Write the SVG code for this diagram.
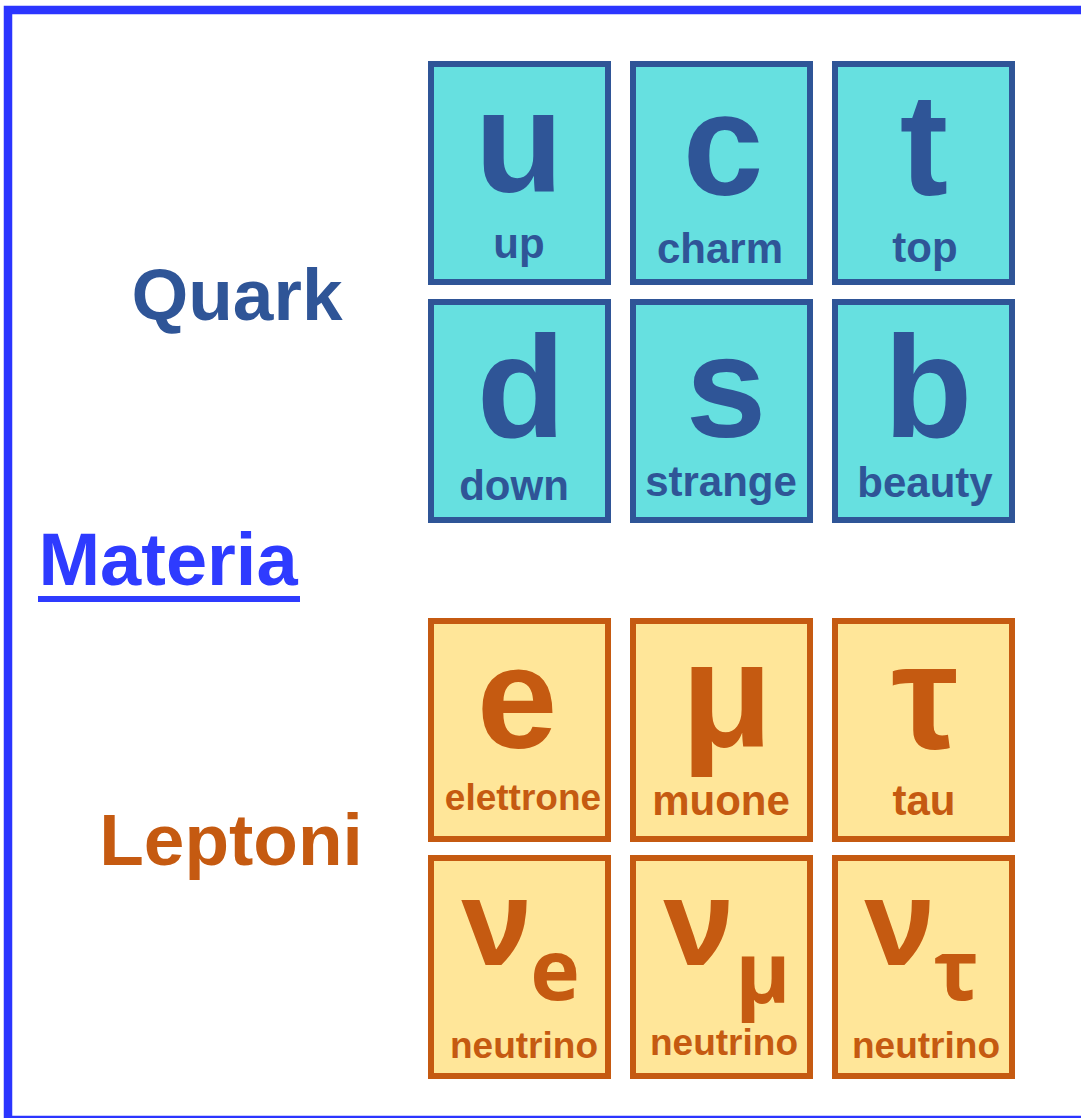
<svg xmlns="http://www.w3.org/2000/svg" width="1081" height="1118" viewBox="0 0 1081 1118">
<style>
.q rect{fill:#66e0e0;stroke:#2f5597;stroke-width:6}
.l rect{fill:#ffe699;stroke:#c55a11;stroke-width:6}
text{font-family:"Liberation Sans",Arial,sans-serif;font-weight:bold;text-anchor:middle}
.q text{fill:#2f5597}
.l text{fill:#c55a11}
.big{font-size:145px}
.lab{font-size:42px}
.sm{font-size:37px}
.nu{font-family:"Open Sans","Liberation Sans",sans-serif;font-size:118px}
.sub{font-family:"Open Sans","Liberation Sans",sans-serif;font-size:84px}
</style>
<rect x="8" y="10" width="1090" height="1110" fill="#fff" stroke="#2b35ff" stroke-width="8.5"/>
<g id="title-quark"><text x="237" y="320" style="font-size:73px;fill:#2f5597">Quark</text></g>
<g id="title-materia"><text x="168" y="585" style="font-size:74px;fill:#2e3bff">Materia</text><rect x="38" y="596" width="262" height="6" fill="#2e3bff"/></g>
<g id="title-leptoni"><text x="231" y="865" style="font-size:73px;fill:#c55a11">Leptoni</text></g>

<g id="up" class="q"><rect x="431" y="64" width="177" height="218"/><text class="big" x="519" y="192">u</text><text class="lab" x="519" y="258">up</text></g>
<g id="charm" class="q"><rect x="633" y="64" width="177" height="218"/><text class="big" x="723" y="195">c</text><text class="lab" x="720" y="263">charm</text></g>
<g id="top" class="q"><rect x="835" y="64" width="177" height="218"/><text class="big" x="924" y="195">t</text><text class="lab" x="925" y="262">top</text></g>
<g id="down" class="q"><rect x="431" y="302" width="177" height="218"/><text class="big" x="521" y="437">d</text><text class="lab" x="514" y="500">down</text></g>
<g id="strange" class="q"><rect x="633" y="302" width="177" height="218"/><text class="big" x="726" y="437">s</text><text class="lab" x="721" y="496">strange</text></g>
<g id="beauty" class="q"><rect x="835" y="302" width="177" height="218"/><text class="big" x="928" y="437">b</text><text class="lab" x="925" y="497">beauty</text></g>

<g id="elettrone" class="l"><rect x="431" y="621" width="177" height="218"/><text class="big" x="517" y="748">e</text><text class="sm" x="523" y="810">elettrone</text></g>
<g id="muone" class="l"><rect x="633" y="621" width="177" height="218"/><text class="big" x="727" y="746" style="font-size:150px">μ</text><text class="lab" x="721" y="815">muone</text></g>
<g id="tau" class="l"><rect x="835" y="621" width="177" height="218"/><text class="big" x="925" y="748" style="font-size:150px">τ</text><text class="lab" x="924" y="815">tau</text></g>
<g id="nu-e" class="l"><rect x="431" y="858" width="177" height="218"/><text class="nu" x="496" y="965">ν</text><text class="sub" x="555" y="1000">e</text><text class="sm" x="524" y="1058">neutrino</text></g>
<g id="nu-mu" class="l"><rect x="633" y="858" width="177" height="218"/><text class="nu" x="698" y="965">ν</text><text class="sub" x="763" y="1003">μ</text><text class="sm" x="724" y="1055">neutrino</text></g>
<g id="nu-tau" class="l"><rect x="835" y="858" width="177" height="218"/><text class="nu" x="899" y="965">ν</text><text class="sub" x="956" y="1000">τ</text><text class="sm" x="926" y="1058">neutrino</text></g>
</svg>
